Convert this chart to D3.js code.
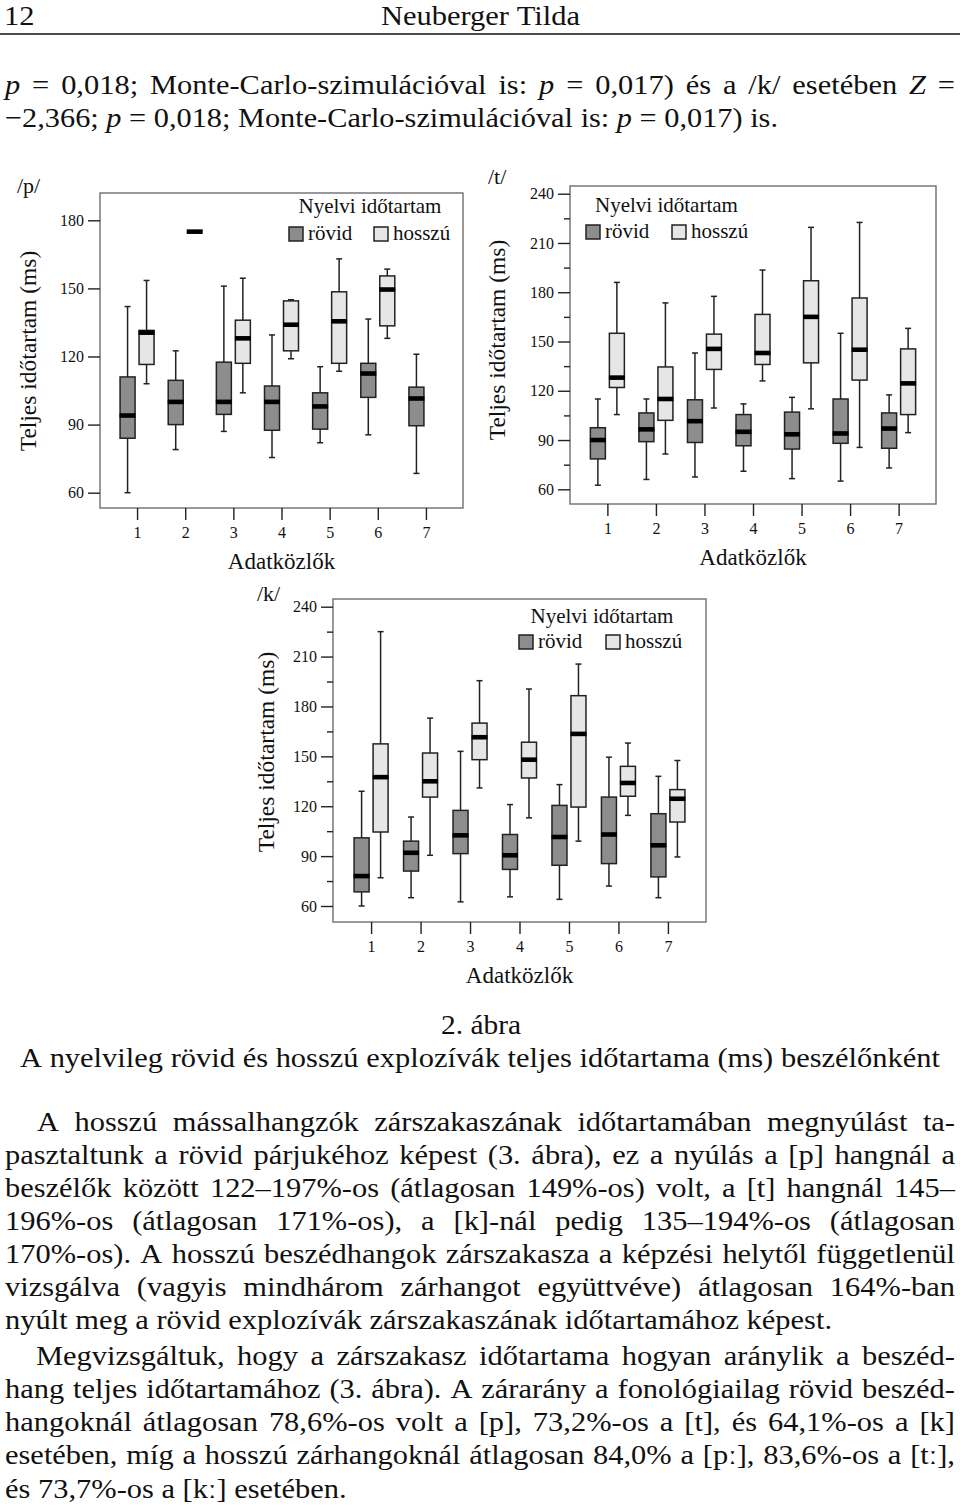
<!DOCTYPE html>
<html><head><meta charset="utf-8">
<script src="https://cdn.jsdelivr.net/npm/d3@7"></script>
<style>
body{margin:0;background:#fff}
svg{display:block}
</style>
</head><body>
<svg id="page" width="960" height="1510"></svg>
<script>
// ---------------- DATA ----------------
const speakers = [1, 2, 3, 4, 5, 6, 7];
const groups = ["rövid", "hosszú"];
const ticksP = [60, 90, 120, 150, 180];
const ticksTK = [60, 90, 120, 150, 180, 210, 240];
const minorTK = [75, 105, 135, 165, 195, 225];
// each entry: [min, q1, median, q3, max]
const pRovid = [[60,84,94,111,142],[79,90,100,109.5,122.5],[87,94.5,100,117.5,151],[75.5,87.5,100,107,129.5],[82,88,98,104,115.5],[85.5,102,112.5,117,136.5],[68.5,89.5,101.5,106.5,121]];
const pHosszu = [[108,116.5,130.5,131.5,153.5],[175,175,175,175,175],[104,117,128,136,154.5],[119,122.5,134,144.5,145],[113.5,117,135.5,148.5,163],[128,133.5,149.5,155.5,158.5],null];
const tRovid = [[62.5,78.5,90,97.5,115],[66,89,96.5,106.5,115],[67.5,88.5,101.5,114.5,143],[71,86.5,95,105.5,112],[66.5,84.5,93.5,107,116],[65,88,94,115,155],[73,85,97,106.5,117.5]];
const tHosszu = [[105.5,122,128,155,186],[81.5,102,115,134.5,173.5],[109.5,133,145.5,154.5,177.5],[126,136,143,166.5,193.5],[109,137,165,187,219.5],[85.5,126.5,145,176.5,222.5],[94.5,105.5,124.5,145.5,158]];
const kRovid = [[60,68.5,78,101,129],[65,81,92,99,113.5],[62.5,91.5,102.5,117.5,153],[65.5,82,90.5,103,121],[64,84.5,101.5,120.5,133],[72,85.5,103,125.5,149.5],[65,77.5,96.5,115.5,138]];
const kHosszu = [[77,104.5,137.5,157.5,225],[90.5,125.5,135,152,173],[131,148,161.5,170,195.5],[113,137,148,158.5,190.5],[99,119.5,163.5,186.5,205.5],[114.5,126,134,144,158],[89.5,110.5,124.5,130,147.5]];

const yTitle = "Teljes időtartam (ms)";
const xTitle = "Adatközlők";
const legendTitle = "Nyelvi időtartam";
const headerNum = "12";
const headerAuthor = "Neuberger Tilda";
const topLines = [
  "_p_ = 0,018; Monte-Carlo-szimulációval is: _p_ = 0,017) és a /k/ esetében _Z_ =",
  "−2,366; _p_ = 0,018; Monte-Carlo-szimulációval is: _p_ = 0,017) is."
];
const captionNum = "2. ábra";
const captionText = "A nyelvileg rövid és hosszú explozívák teljes időtartama (ms) beszélőnként";
const bodyLines = [
  "A hosszú mássalhangzók zárszakaszának időtartamában megnyúlást ta-",
  "pasztaltunk a rövid párjukéhoz képest (3. ábra), ez a nyúlás a [p] hangnál a",
  "beszélők között 122–197%-os (átlagosan 149%-os) volt, a [t] hangnál 145–",
  "196%-os (átlagosan 171%-os), a [k]-nál pedig 135–194%-os (átlagosan",
  "170%-os). A hosszú beszédhangok zárszakasza a képzési helytől függetlenül",
  "vizsgálva (vagyis mindhárom zárhangot együttvéve) átlagosan 164%-ban",
  "nyúlt meg a rövid explozívák zárszakaszának időtartamához képest.",
  "Megvizsgáltuk, hogy a zárszakasz időtartama hogyan aránylik a beszéd-",
  "hang teljes időtartamához (3. ábra). A zárarány a fonológiailag rövid beszéd-",
  "hangoknál átlagosan 78,6%-os volt a [p], 73,2%-os a [t], és 64,1%-os a [k]",
  "esetében, míg a hosszú zárhangoknál átlagosan 84,0% a [pː], 83,6%-os a [tː],",
  "és 73,7%-os a [kː] esetében."
];

// ---------------- FONT PICK ----------------
function fontAvailable(f) {
  const c = document.createElement("canvas").getContext("2d");
  const s = "mmmmmmmmmmlli WWW 0123 ábrő";
  let diff = false;
  ["monospace", "sans-serif"].forEach(base => {
    c.font = `72px ${base}`; const a = c.measureText(s).width;
    c.font = `72px "${f}", ${base}`; const b = c.measureText(s).width;
    if (Math.abs(a - b) > 0.5) diff = true;
  });
  return diff;
}
const serifCandidates = ["Liberation Serif", "Tinos", "Times New Roman", "Times", "Nimbus Roman", "Nimbus Roman No9 L", "FreeSerif", "Noto Serif", "DejaVu Serif"];
const SERIF = serifCandidates.find(fontAvailable) || "serif";
const st = document.createElement("style");
st.textContent = `text{font-family:"${SERIF}",serif !important;fill:#111}`;
document.head.appendChild(st);

// ---------------- LAYOUT ----------------
const svg = d3.select("#page");
const ROVID_FILL = "#8d8d8d", HOSSZU_FILL = "#e6e6e6", INK = "#222";

const measurer = svg.append("text").attr("x", -2000).attr("y", -2000);
function textW(s, size, italic) {
  measurer.attr("font-size", size).attr("font-style", italic ? "italic" : "normal").text(s);
  return measurer.node().getComputedTextLength();
}

function boxChart(cfg) {
  const g = svg.append("g");
  const y = d3.scaleLinear().domain([60, cfg.yMax]).range([cfg.y60, cfg.yMaxPx]);
  const x = d3.scalePoint().domain(speakers).range([cfg.fx0, cfg.fx1]).padding(0.77);
  const sub = d3.scaleBand().domain(groups).range([-17, 17]).paddingInner(0.21);
  const bw = sub.bandwidth();

  g.append("rect").attr("x", cfg.fx0).attr("y", cfg.fy0)
    .attr("width", cfg.fx1 - cfg.fx0).attr("height", cfg.fy1 - cfg.fy0)
    .attr("fill", "none").attr("stroke", "#6e6e6e").attr("stroke-width", 1.4);

  g.append("g").attr("transform", `translate(${cfg.fx0},0)`)
    .call(d3.axisLeft(y).tickValues(cfg.ticks).tickSize(12).tickPadding(4).tickFormat(d3.format("d")));
  if (cfg.minor) {
    g.append("g").attr("transform", `translate(${cfg.fx0},0)`)
      .call(d3.axisLeft(y).tickValues(cfg.minor).tickSize(6).tickFormat(""));
  }
  g.append("g").attr("transform", `translate(0,${cfg.fy1})`)
    .call(d3.axisBottom(x).tickSize(12).tickPadding(7));
  g.selectAll(".domain").remove();
  g.selectAll(".tick line").attr("stroke", INK).attr("stroke-width", 1.4);
  g.selectAll(".tick text").attr("font-size", 16);

  const series = [{name: "rövid", data: cfg.rovid, fill: ROVID_FILL}, {name: "hosszú", data: cfg.hosszu, fill: HOSSZU_FILL}];
  series.forEach(s => {
    s.data.forEach((d, i) => {
      if (!d) return;
      const [mn, q1, md, q3, mx] = d;
      const cx = x(speakers[i]) + sub(s.name) + bw / 2;
      const bg = g.append("g");
      bg.append("line").attr("x1", cx).attr("x2", cx).attr("y1", y(mx)).attr("y2", y(mn))
        .attr("stroke", INK).attr("stroke-width", 1.5);
      [mn, mx].forEach(v => bg.append("line").attr("x1", cx - 3).attr("x2", cx + 3).attr("y1", y(v)).attr("y2", y(v))
        .attr("stroke", INK).attr("stroke-width", 1.5));
      bg.append("rect").attr("x", cx - bw / 2).attr("y", y(q3)).attr("width", bw).attr("height", y(q1) - y(q3))
        .attr("fill", s.fill).attr("stroke", INK).attr("stroke-width", 1.5);
      bg.append("rect").attr("x", cx - bw / 2 - 0.5).attr("y", y(md) - 2.3).attr("width", bw + 1).attr("height", 4.6)
        .attr("fill", "#000");
    });
  });

  g.append("text").attr("x", cfg.slashX).attr("y", cfg.slashY).attr("font-size", 22).text(cfg.slash);
  g.append("text").attr("transform", `translate(${cfg.ytX},${cfg.ytY}) rotate(-90)`)
    .attr("text-anchor", "middle").attr("font-size", 23.5).text(yTitle);
  g.append("text").attr("x", (cfg.fx0 + cfg.fx1) / 2).attr("y", cfg.fy1 + 61)
    .attr("text-anchor", "middle").attr("font-size", 23).text(xTitle);

  const L = cfg.legend;
  g.append("text").attr("x", L.tx).attr("y", L.ty).attr("text-anchor", L.anchor).attr("font-size", 21).text(legendTitle);
  [[L.s1, "rövid", ROVID_FILL], [L.s2, "hosszú", HOSSZU_FILL]].forEach(([sx, lab, f]) => {
    g.append("rect").attr("x", sx).attr("y", L.sy).attr("width", 14).attr("height", 14)
      .attr("fill", f).attr("stroke", INK).attr("stroke-width", 1.5);
    g.append("text").attr("x", sx + 19).attr("y", L.sy + 13).attr("font-size", 21).text(lab);
  });
}

boxChart({fx0: 100, fx1: 463, fy0: 193, fy1: 508, yMax: 180, y60: 492.7, yMaxPx: 220.3,
  ticks: ticksP, minor: null, rovid: pRovid, hosszu: pHosszu,
  slash: "/p/", slashX: 17, slashY: 193, ytX: 36, ytY: 351,
  legend: {tx: 370, ty: 213, anchor: "middle", s1: 289, s2: 374, sy: 227}});
boxChart({fx0: 570, fx1: 936, fy0: 186, fy1: 504, yMax: 240, y60: 489.3, yMaxPx: 193.7,
  ticks: ticksTK, minor: minorTK, rovid: tRovid, hosszu: tHosszu,
  slash: "/t/", slashX: 488, slashY: 184, ytX: 505, ytY: 340,
  legend: {tx: 595, ty: 212, anchor: "start", s1: 586, s2: 672, sy: 225}});
boxChart({fx0: 333, fx1: 706, fy0: 599, fy1: 922, yMax: 240, y60: 906, yMaxPx: 606.7,
  ticks: ticksTK, minor: minorTK, rovid: kRovid, hosszu: kHosszu,
  slash: "/k/", slashX: 257, slashY: 601, ytX: 274, ytY: 752,
  legend: {tx: 602, ty: 623, anchor: "middle", s1: 519, s2: 606, sy: 635}});

// ---------------- TEXT ----------------
const FS = 28;
function parseWords(line) {
  return line.split(" ").map(w => {
    const it = /^_.*_$/.test(w);
    return {w: it ? w.slice(1, -1) : w, it};
  });
}
const spaceW = textW("a a", FS, false) - textW("aa", FS, false);
function naturalWidth(words) {
  return d3.sum(words, d => textW(d.w, FS, d.it)) + spaceW * (words.length - 1);
}
const CX = 827 / naturalWidth(parseWords(bodyLines[6]));

function drawLine(line, x0, x1, yb, mode, scale) {
  const words = parseWords(line);
  const s = scale || CX;
  const ws = words.map(d => textW(d.w, FS, d.it) * s);
  let gap = spaceW * s;
  let sx = s;
  if (mode === "justify") {
    gap = (x1 - x0 - d3.sum(ws)) / (words.length - 1);
    if (gap < spaceW * s * 0.7) {
      gap = spaceW * s * 0.7;
      sx = s * (x1 - x0 - gap * (words.length - 1)) / d3.sum(ws);
    }
  }
  let x = x0;
  words.forEach((d, i) => {
    svg.append("text").attr("transform", `translate(${x},${yb}) scale(${sx},1)`)
      .attr("font-size", FS).attr("font-style", d.it ? "italic" : "normal").text(d.w);
    x += ws[i] * sx / s + gap;
  });
}
function drawFit(line, x0, x1, yb) {
  const words = parseWords(line);
  const s = (x1 - x0) / naturalWidth(words);
  drawLine(line, x0, x1, yb, "fit", s);
}

svg.append("text").attr("transform", `translate(4,25) scale(${CX},1)`).attr("font-size", FS).text(headerNum);
drawFit(headerAuthor, 381, 580, 25);
svg.append("line").attr("x1", 0).attr("x2", 960).attr("y1", 34).attr("y2", 34).attr("stroke", "#111").attr("stroke-width", 1.6);

drawLine(topLines[0], 5, 955, 94, "justify");
drawFit(topLines[1], 5, 778, 127);

drawFit(captionNum, 441, 521, 1034);
drawFit(captionText, 20, 940, 1067);

const bodyY = [1131, 1164, 1197, 1230, 1263, 1296, 1329, 1365, 1398, 1431, 1464, 1498];
const bodyX0 = [37, 5, 5, 5, 5, 5, 5, 36, 5, 5, 5, 5];
const lastOfPara = [6, 11];
bodyLines.forEach((l, i) => {
  drawLine(l, bodyX0[i], 955, bodyY[i], lastOfPara.includes(i) ? "left" : "justify");
});
measurer.remove();
</script>
</body></html>
